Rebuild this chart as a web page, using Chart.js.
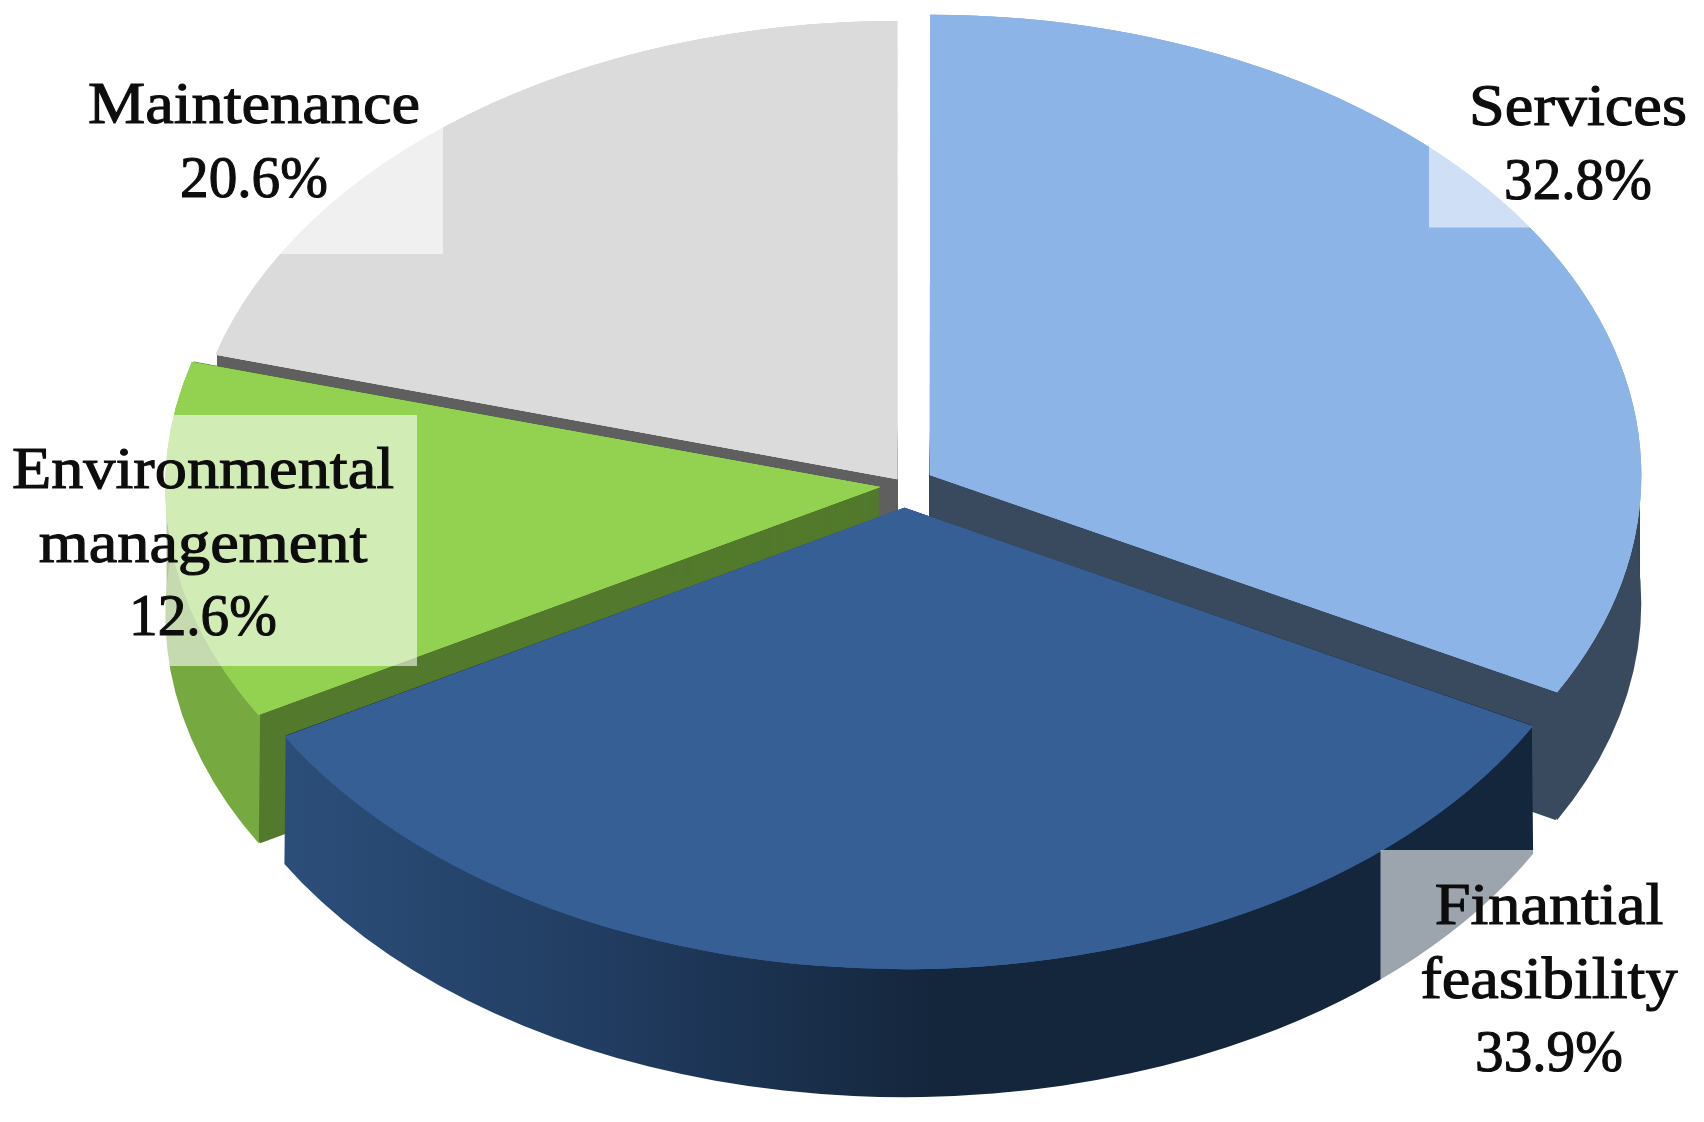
<!DOCTYPE html>
<html>
<head>
<meta charset="utf-8">
<style>html,body{margin:0;padding:0;background:#fff}canvas{display:block}</style>
<script src="https://cdn.jsdelivr.net/npm/chart.js@4"></script>
</head>
<body>
<canvas id="c" width="1704" height="1122"></canvas>
<script>
const categories = ['Services', 'Finantial feasibility', 'Environmental management', 'Maintenance'];
const values = [32.8, 33.9, 12.6, 20.6];
const labelLines = [['Services'], ['Finantial', 'feasibility'], ['Environmental', 'management'], ['Maintenance']];

const topColors = ['#8db4e7', '#365f96', '#93d250', '#dbdbdb'];
const wallColors = ['#394a5e', '#14263c', '#537a2c', '#5f5f5f'];
const rimColors = ['#3a4a5e', null, '#76aa40', '#5f5f5f'];
const explode = [120, 140, 96, 44];

const squash = 0.647;
const depth = 128;
const wallOrder = [3, 2, 0, 1];
const backTrim = 0.004;

const labelStyle = [
  {cx: 1578, base: 125, box: [1429, 60, 275, 167.5]},
  {cx: 1549, base: 924, box: [1380.5, 850, 260, 260]},
  {cx: 203, base: 488, box: [0, 415, 417, 251]},
  {cx: 254, base: 123, box: [70, 60, 373, 194]}
];
const lineGap = 73.5;

function arcGeom(el, i) {
  const p = el.getProps(['x', 'y', 'startAngle', 'endAngle', 'outerRadius', 'circumference'], true);
  const o = (el.options.offset || 0) / 4;
  const half = (p.startAngle + p.endAngle) / 2;
  const fix = 1 - Math.sin(Math.min(Math.PI, p.circumference));
  return {
    x: p.x + Math.cos(half) * o,
    y: p.y + Math.sin(half) * o,
    r: p.outerRadius + o * fix,
    a: p.startAngle + (i === 0 ? backTrim : 0),
    b: p.endAngle - (i === categories.length - 1 ? backTrim : 0)
  };
}

const pie3d = {
  id: 'pie3d',
  beforeDatasetsDraw(chart) {
    const ctx = chart.ctx;
    const arcs = chart.getDatasetMeta(0).data;
    const cy = arcs[0].y;
    ctx.save();
    ctx.translate(0, cy);
    ctx.scale(1, squash);
    ctx.translate(0, -cy);
    const dy = depth / squash;
    wallOrder.forEach(i => {
      const g = arcGeom(arcs[i], i);
      ctx.fillStyle = wallColors[i];
      for (let s = 0; s <= depth; s++) {
        const t = s / squash;
        ctx.beginPath();
        ctx.moveTo(g.x, g.y + t);
        ctx.arc(g.x, g.y + t, g.r - 1.5, g.a, g.b);
        ctx.closePath();
        ctx.fill();
      }
      let rim = rimColors[i];
      if (!rim) {
        rim = ctx.createLinearGradient(g.x - g.r * 0.86, 0, g.x + 30, 0);
        rim.addColorStop(0, '#2b4e79');
        rim.addColorStop(0.5, '#213c60');
        rim.addColorStop(1, '#14263c');
      }
      ctx.fillStyle = rim;
      ctx.beginPath();
      ctx.arc(g.x, g.y, g.r - 1.5, g.a, g.b);
      ctx.arc(g.x, g.y + dy, g.r, g.b, g.a, true);
      ctx.closePath();
      ctx.fill();
    });
  },
  afterDatasetsDraw(chart) {
    const ctx = chart.ctx;
    const arcs = chart.getDatasetMeta(0).data;
    for (let n = 0; n < 2; n++) arcs.forEach(a => a.draw(ctx));
    ctx.restore();
    ctx.save();
    ctx.fillStyle = 'rgba(255,255,255,0.58)';
    labelStyle.forEach(s => ctx.fillRect(s.box[0], s.box[1], s.box[2], s.box[3]));
    ctx.fillStyle = '#0d0d0d';
    ctx.strokeStyle = '#0d0d0d';
    ctx.lineWidth = 1.1;
    ctx.textAlign = 'center';
    ctx.textBaseline = 'alphabetic';
    ctx.font = '59px "Liberation Serif"';
    ctx.filter = 'blur(0.6px)';
    const put = (txt, x, y, sx) => {
      ctx.save();
      ctx.translate(x, y);
      ctx.scale(sx, 1);
      ctx.fillText(txt, 0, 0);
      ctx.strokeText(txt, 0, 0);
      ctx.restore();
    };
    categories.forEach((_, i) => {
      const s = labelStyle[i];
      labelLines[i].forEach((t, j) => put(t, s.cx, s.base + j * lineGap, 1.09));
      put(values[i].toFixed(1) + '%', s.cx, s.base + labelLines[i].length * lineGap, 0.97);
    });
    ctx.restore();
  }
};

new Chart(document.getElementById('c'), {
  type: 'pie',
  data: {
    labels: categories,
    datasets: [{
      data: values,
      backgroundColor: topColors,
      borderWidth: 0,
      offset: explode,
      clip: false
    }]
  },
  options: {
    responsive: false,
    animation: false,
    radius: 708,
    rotation: 0,
    layout: {padding: {left: 104, bottom: 152}},
    plugins: {legend: {display: false}, tooltip: {enabled: false}, title: {display: false}}
  },
  plugins: [pie3d]
});
</script>
</body>
</html>
